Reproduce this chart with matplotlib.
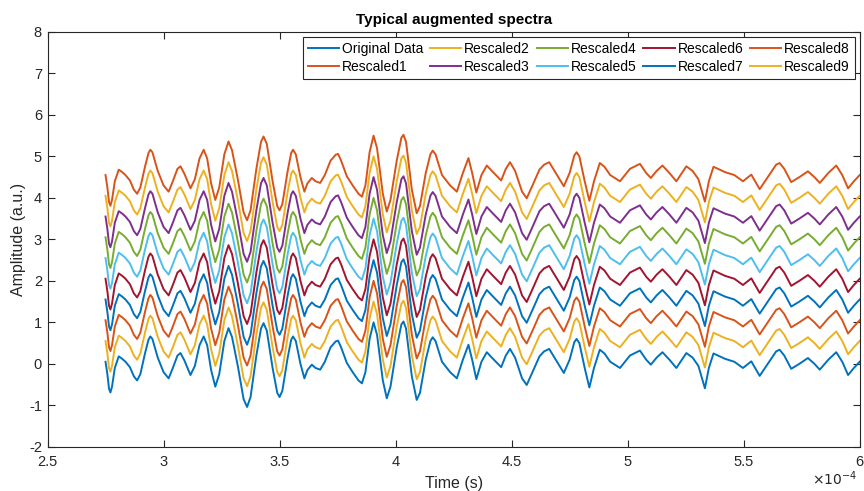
import matplotlib
matplotlib.use("Agg")
import numpy as np
import matplotlib.pyplot as plt
from matplotlib.ticker import FormatStrFormatter

plt.rcParams['font.family'] = ['Liberation Sans', 'DejaVu Sans']
plt.rcParams['axes.unicode_minus'] = False

# time axis in units of 1e-4 s
time_e4 = [
    2.750, 2.758, 2.765, 2.771, 2.778, 2.790, 2.807, 2.822, 2.836, 2.855,
    2.872, 2.886, 2.900, 2.920, 2.935, 2.943, 2.952, 2.975, 3.000, 3.022,
    3.040, 3.060, 3.073, 3.090, 3.116, 3.135, 3.155, 3.173, 3.188, 3.205,
    3.223, 3.240, 3.262, 3.280, 3.295, 3.320, 3.345, 3.360, 3.375, 3.400,
    3.420, 3.431, 3.445, 3.470, 3.490, 3.500, 3.512, 3.535, 3.550, 3.558,
    3.570, 3.590, 3.607, 3.620, 3.639, 3.655, 3.675, 3.695, 3.720, 3.742,
    3.752, 3.765, 3.790, 3.815, 3.840, 3.855, 3.870, 3.888, 3.905, 3.920,
    3.945, 3.962, 3.978, 4.005, 4.025, 4.034, 4.045, 4.070, 4.091, 4.105,
    4.130, 4.150, 4.160, 4.172, 4.200, 4.235, 4.264, 4.290, 4.314, 4.330,
    4.348, 4.370, 4.393, 4.420, 4.455, 4.475, 4.493, 4.515, 4.545, 4.565,
    4.590, 4.620, 4.640, 4.662, 4.690, 4.725, 4.750, 4.770, 4.780, 4.792,
    4.815, 4.835, 4.855, 4.880, 4.900, 4.925, 4.967, 5.010, 5.053, 5.080,
    5.100, 5.125, 5.150, 5.180, 5.210, 5.253, 5.280, 5.305, 5.333, 5.350,
    5.370, 5.420, 5.460, 5.497, 5.533, 5.569, 5.610, 5.640, 5.655, 5.675,
    5.705, 5.740, 5.777, 5.805, 5.828, 5.865, 5.899, 5.925, 5.950, 5.975,
    6.000,
]

original = [
    0.05, -0.25, -0.60, -0.69, -0.55, -0.10, 0.18, 0.12, 0.05, -0.08,
    -0.30, -0.40, -0.25, 0.25, 0.58, 0.66, 0.60, 0.15, -0.20, -0.35,
    -0.10, 0.20, 0.26, 0.08, -0.27, -0.05, 0.45, 0.66, 0.45, -0.15,
    -0.55, -0.25, 0.55, 0.86, 0.65, -0.05, -0.85, -1.04, -0.80, 0.20,
    0.85, 0.98, 0.80, -0.10, -0.70, -0.80, -0.65, 0.15, 0.58, 0.66,
    0.55, 0.00, -0.35, -0.15, -0.02, -0.10, -0.14, 0.05, 0.40, 0.54,
    0.56, 0.40, 0.02, -0.20, -0.40, -0.47, -0.20, 0.60, 1.00, 0.70,
    -0.40, -0.83, -0.55, 0.40, 0.95, 1.02, 0.85, -0.30, -0.87, -0.70,
    0.10, 0.55, 0.64, 0.55, 0.05, -0.20, -0.35, 0.10, 0.46, 0.10,
    -0.37, 0.05, 0.28, 0.12, -0.08, 0.20, 0.36, 0.15, -0.35, -0.51,
    -0.20, 0.18, 0.30, 0.36, 0.10, -0.22, 0.10, 0.52, 0.60, 0.50,
    -0.10, -0.57, -0.10, 0.34, 0.25, 0.05, -0.10, 0.20, 0.32, 0.10,
    -0.02, 0.15, 0.28, 0.10, -0.10, 0.26, 0.15, -0.05, -0.59, -0.10,
    0.25, 0.12, 0.05, -0.10, 0.06, -0.29, 0.05, 0.30, 0.34, 0.20,
    -0.12, 0.00, 0.14, 0.00, -0.14, 0.10, 0.28, 0.05, -0.27, -0.10,
    0.05,
]

labels = ['Original Data', 'Rescaled1', 'Rescaled2', 'Rescaled3', 'Rescaled4',
          'Rescaled5', 'Rescaled6', 'Rescaled7', 'Rescaled8', 'Rescaled9']
offsets = [0.0, 4.5, 4.0, 3.5, 3.0, 2.5, 2.0, 1.5, 1.0, 0.5]
colors = ['#0072BD', '#D95319', '#EDB120', '#7E2F8E', '#77AC30',
          '#4DBEEE', '#A2142F', '#0072BD', '#D95319', '#EDB120']

x_ticks = [2.5, 3, 3.5, 4, 4.5, 5, 5.5, 6]
y_ticks = [-2, -1, 0, 1, 2, 3, 4, 5, 6, 7, 8]

fig = plt.figure(figsize=(8.64, 4.91), dpi=100)
ax = fig.add_axes([0.055, 0.09, 0.94, 0.845])

t = np.array(time_e4)
base = np.array(original)
for lab, off, c in zip(labels, offsets, colors):
    ax.plot(t, base + off, color=c, lw=1.4, label=lab, solid_joinstyle='round')

ax.set_xlim(2.5, 6)
ax.set_ylim(-2, 8)
ax.set_xticks(x_ticks)
ax.set_yticks(y_ticks)
ax.xaxis.set_major_formatter(FormatStrFormatter('%g'))
ax.yaxis.set_major_formatter(FormatStrFormatter('%g'))
ax.tick_params(direction='in', top=True, right=True, length=5, width=0.8,
               colors='#262626', labelsize=10.5)
ax.tick_params(axis='x', pad=6)
ax.tick_params(axis='y', pad=4)
for s in ax.spines.values():
    s.set_color('#262626')
    s.set_linewidth(0.8)

ax.set_title('Typical augmented spectra', fontsize=11, fontweight='bold', pad=6)
ax.set_xlabel('Time (s)', fontsize=11.5, color='#262626', labelpad=5)
ax.set_ylabel('Amplitude (a.u.)', fontsize=11.5, color='#262626', labelpad=2)
fig.text(0.992, 0.006, r'$\times10^{-4}$', ha='right', va='bottom',
         fontsize=10, color='#262626')

leg = ax.legend(ncol=5, loc='upper right', fontsize=10, handlelength=2.25,
                handletextpad=0.2, columnspacing=0.5, labelspacing=0.3,
                borderpad=0.35, borderaxespad=0.35, fancybox=False, framealpha=1)
leg.get_frame().set_edgecolor('#262626')
leg.get_frame().set_linewidth(0.8)

fig.savefig('out.png', dpi=100)
